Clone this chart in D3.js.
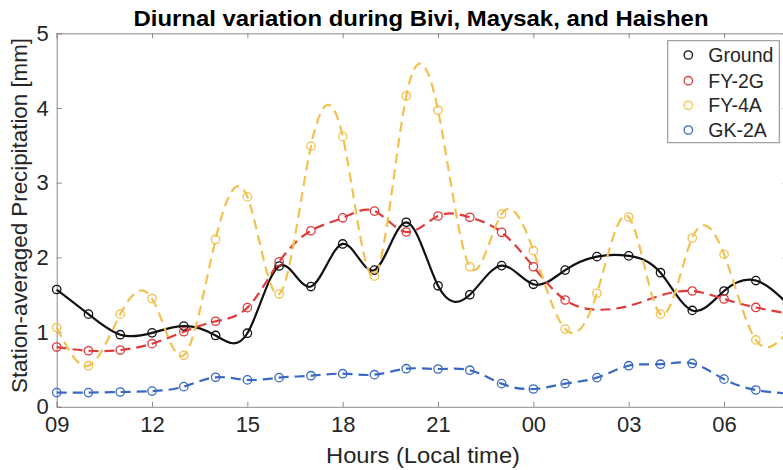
<!DOCTYPE html>
<html>
<head>
<meta charset="utf-8">
<script src="https://cdn.jsdelivr.net/npm/d3@7"></script>
<style>
  html, body { margin: 0; padding: 0; background: #fff; }
  svg { display: block; font-family: "Liberation Sans", Arial, Helvetica, sans-serif; }
</style>
</head>
<body>
<svg id="chart" width="783" height="470"></svg>
<script>
// Hours from 09 local time through 08 the next morning
const hours = d3.range(24);
const hourTickIndex = [0, 3, 6, 9, 12, 15, 18, 21];
const hourTickLabels = ["09", "12", "15", "18", "21", "00", "03", "06"];
const yTicks = [0, 1, 2, 3, 4, 5];

// Station-averaged hourly precipitation (mm)
const ground = [1.57, 1.24, 0.965, 0.99, 1.08, 0.955, 0.985, 1.885, 1.61, 2.18, 1.83, 2.47,
                1.62, 1.50, 1.89, 1.64, 1.83, 2.01, 2.02, 1.795, 1.29, 1.55, 1.69, 1.38];
const fy2g = [0.80, 0.75, 0.76, 0.845, 1.005, 1.145, 1.327, 1.94, 2.357, 2.53, 2.62, 2.34,
              2.554, 2.537, 2.336, 1.875, 1.43, 1.30, 1.35, 1.49, 1.55, 1.443, 1.33, 1.25];
const fy4a = [1.06, 0.55, 1.24, 1.45, 0.69, 2.24, 2.81, 1.51, 3.49, 3.62, 1.75, 4.16,
              3.97, 1.875, 2.58, 2.09, 1.04, 1.52, 2.54, 1.24, 2.26, 2.04, 0.895, 1.0];
const gk2a = [0.19, 0.19, 0.198, 0.21, 0.27, 0.395, 0.36, 0.39, 0.416, 0.443, 0.43, 0.51,
              0.506, 0.49, 0.31, 0.238, 0.31, 0.39, 0.55, 0.57, 0.58, 0.37, 0.225, 0.18];
// FY-2G hours plotted on the curve only, without a marker
const fy2gUnmarked = [17, 18, 19];

const seriesNames = ["Ground", "FY-2G", "FY-4A", "GK-2A"];
const seriesValues = [ground, fy2g, fy4a, gk2a];
const seriesUnmarked = [[], fy2gUnmarked, [], []];
const seriesColors = ["#111111", "#de3b3b", "#f3c14f", "#3a69c4"];

const svg = d3.select("#chart");
const plotLeft = 56.7, plotRight = 787.6, plotTop = 33.3, plotBottom = 406.8;

const x = d3.scaleLinear().domain([0, 23]).range([plotLeft, plotRight]);
const y = d3.scaleLinear().domain([0, 5]).range([plotBottom, plotTop]);

const axisColor = "#8a8a8a";
const textColor = "#262626";

// Axes box with inward ticks on all four sides
const xAxisB = d3.axisBottom(x).tickValues(hourTickIndex).tickSize(-5).tickPadding(10)
  .tickFormat((d, i) => hourTickLabels[i]);
const xAxisT = d3.axisTop(x).tickValues(hourTickIndex).tickSize(-5).tickFormat("");
const yAxisL = d3.axisLeft(y).tickValues(yTicks).tickSize(-5).tickPadding(8).tickFormat(d3.format("d"));
const yAxisR = d3.axisRight(y).tickValues(yTicks).tickSize(-5).tickFormat("");

function styleAxis(g) {
  g.select(".domain").attr("stroke", axisColor).attr("stroke-width", 1);
  g.selectAll(".tick line").attr("stroke", axisColor).attr("stroke-width", 1);
  g.selectAll(".tick text").attr("fill", textColor).style("font-size", "22px")
    .style("font-family", "\"Liberation Sans\", Arial, sans-serif");
}

svg.append("g").attr("transform", `translate(0,${plotBottom})`).call(xAxisB).call(styleAxis);
svg.append("g").attr("transform", `translate(0,${plotTop})`).call(xAxisT).call(styleAxis);
svg.append("g").attr("transform", `translate(${plotLeft},0)`).call(yAxisL).call(styleAxis);
svg.append("g").attr("transform", `translate(${plotRight},0)`).call(yAxisR).call(styleAxis);

// Smooth curves through the hourly values
const plot = svg.append("g");
const line = d3.line().x(p => x(p[0])).y(p => y(p[1])).curve(d3.curveNatural);
seriesValues.forEach((vals, si) => {
  const pts = hours.map(h => [h, vals[h]]);
  plot.append("path")
    .attr("d", line(pts))
    .attr("fill", "none")
    .attr("stroke", seriesColors[si])
    .attr("stroke-width", 2.2)
    .attr("stroke-dasharray", si === 0 ? null : "10,6");
});

// Hollow circle markers at each hourly value
seriesValues.forEach((vals, si) => {
  const pts = hours.filter(h => !seriesUnmarked[si].includes(h)).map(h => [h, vals[h]]);
  plot.selectAll(null).data(pts).enter().append("circle")
    .attr("cx", p => x(p[0]))
    .attr("cy", p => y(p[1]))
    .attr("r", 4.2)
    .attr("fill", "none")
    .attr("stroke", seriesColors[si])
    .attr("stroke-width", 1.3);
});

// Title and axis labels
svg.append("text")
  .attr("x", 421).attr("y", 26)
  .attr("text-anchor", "middle")
  .attr("fill", "#000")
  .style("font-size", "22px").style("font-weight", "bold")
  .attr("textLength", 575).attr("lengthAdjust", "spacingAndGlyphs")
  .text("Diurnal variation during Bivi, Maysak, and Haishen");

svg.append("text")
  .attr("x", 423).attr("y", 463)
  .attr("text-anchor", "middle")
  .attr("fill", textColor)
  .style("font-size", "22px")
  .attr("textLength", 194).attr("lengthAdjust", "spacingAndGlyphs")
  .text("Hours (Local time)");

svg.append("text")
  .attr("transform", "translate(27,215.5) rotate(-90)")
  .attr("text-anchor", "middle")
  .attr("fill", textColor)
  .style("font-size", "22px")
  .attr("textLength", 355).attr("lengthAdjust", "spacingAndGlyphs")
  .text("Station-averaged Precipitation [mm]");

// Legend
const legend = svg.append("g");
legend.append("rect")
  .attr("x", 667.7).attr("y", 40.7).attr("width", 111.6).attr("height", 102)
  .attr("fill", "#fff").attr("stroke", axisColor).attr("stroke-width", 1);
const rowY = [55, 80.7, 105.3, 130];
seriesNames.forEach((name, i) => {
  legend.append("circle")
    .attr("cx", 688.3).attr("cy", rowY[i]).attr("r", 4.2)
    .attr("fill", "none").attr("stroke", seriesColors[i]).attr("stroke-width", 1.3);
  legend.append("text")
    .attr("x", 708.3).attr("y", rowY[i]).attr("dy", "0.36em")
    .attr("fill", textColor)
    .style("font-size", "19.5px")
    .text(name);
});
</script>
</body>
</html>
